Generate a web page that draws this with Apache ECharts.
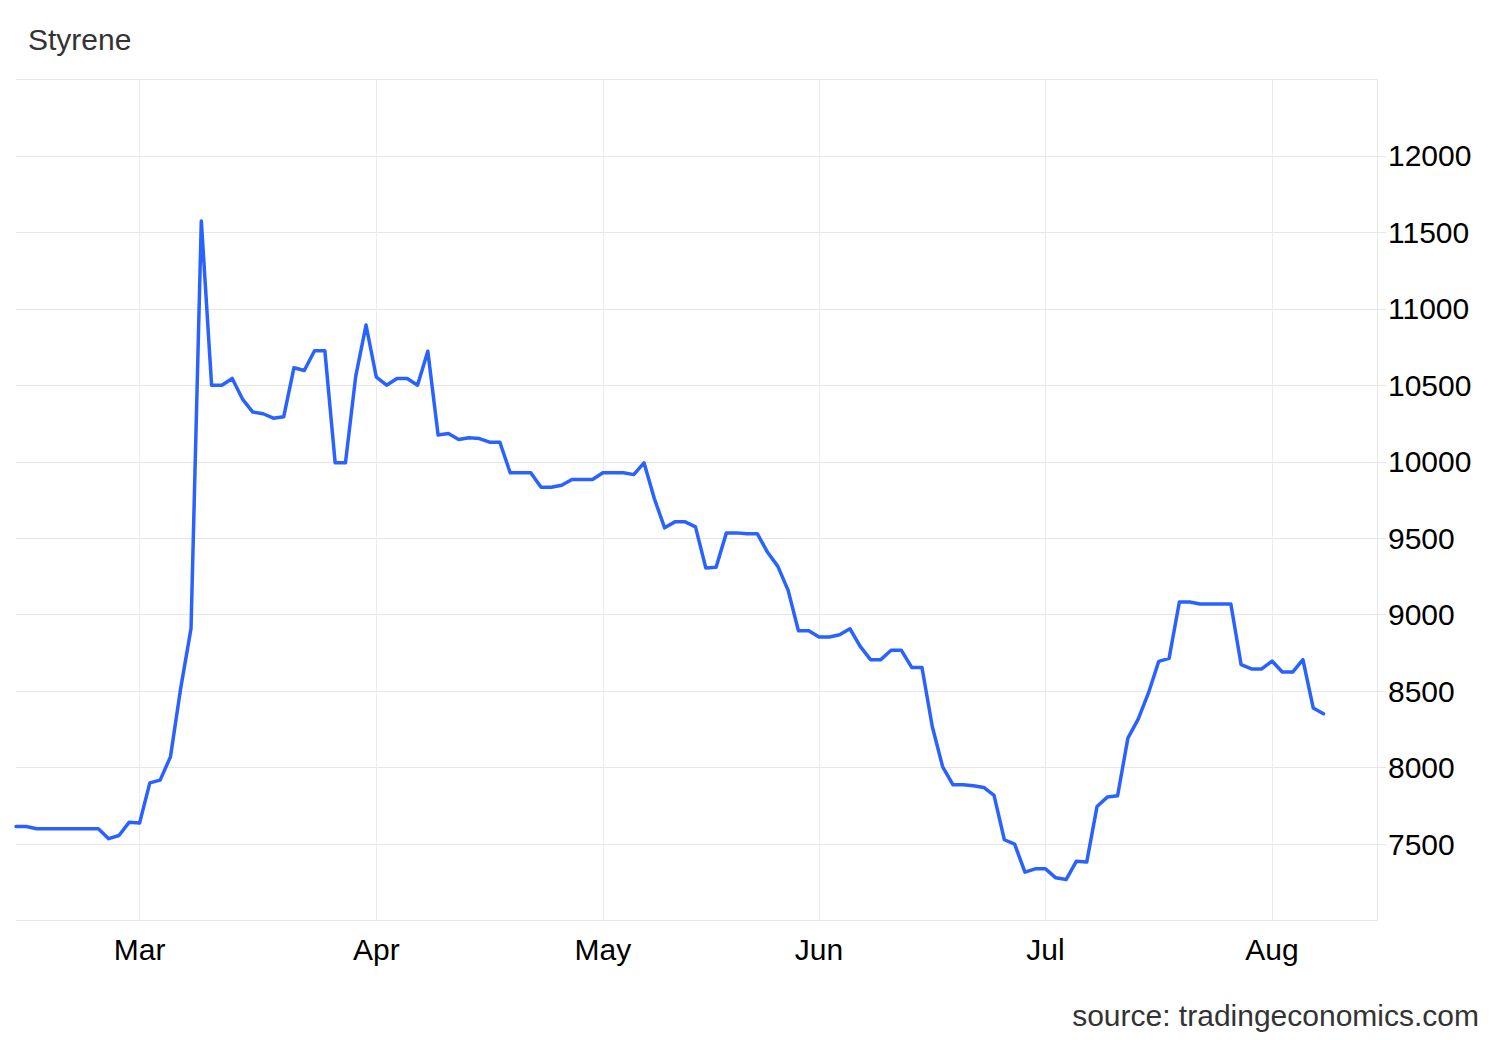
<!DOCTYPE html>
<html>
<head>
<meta charset="utf-8">
<title>Styrene</title>
<script src="https://cdn.jsdelivr.net/npm/echarts@6/dist/echarts.min.js"></script>
<style>
  html, body { margin: 0; padding: 0; background: #ffffff; }
  #chart { width: 1500px; height: 1040px; }
</style>
</head>
<body>
<div id="chart"></div>
<script>
// Trading days (weekdays), Feb 11 2021 - Aug 9 2021
const dates = [
  '2021-02-11','2021-02-12','2021-02-15','2021-02-16','2021-02-17','2021-02-18','2021-02-19',
  '2021-02-22','2021-02-23','2021-02-24','2021-02-25','2021-02-26',
  '2021-03-01','2021-03-02','2021-03-03','2021-03-04','2021-03-05',
  '2021-03-08','2021-03-09','2021-03-10','2021-03-11','2021-03-12',
  '2021-03-15','2021-03-16','2021-03-17','2021-03-18','2021-03-19',
  '2021-03-22','2021-03-23','2021-03-24','2021-03-25','2021-03-26',
  '2021-03-29','2021-03-30','2021-03-31',
  '2021-04-01','2021-04-02','2021-04-05','2021-04-06','2021-04-07','2021-04-08','2021-04-09',
  '2021-04-12','2021-04-13','2021-04-14','2021-04-15','2021-04-16',
  '2021-04-19','2021-04-20','2021-04-21','2021-04-22','2021-04-23',
  '2021-04-26','2021-04-27','2021-04-28','2021-04-29','2021-04-30',
  '2021-05-03','2021-05-04','2021-05-05','2021-05-06','2021-05-07',
  '2021-05-10','2021-05-11','2021-05-12','2021-05-13','2021-05-14',
  '2021-05-17','2021-05-18','2021-05-19','2021-05-20','2021-05-21',
  '2021-05-24','2021-05-25','2021-05-26','2021-05-27','2021-05-28','2021-05-31',
  '2021-06-01','2021-06-02','2021-06-03','2021-06-04',
  '2021-06-07','2021-06-08','2021-06-09','2021-06-10','2021-06-11',
  '2021-06-14','2021-06-15','2021-06-16','2021-06-17','2021-06-18',
  '2021-06-21','2021-06-22','2021-06-23','2021-06-24','2021-06-25',
  '2021-06-28','2021-06-29','2021-06-30',
  '2021-07-01','2021-07-02','2021-07-05','2021-07-06','2021-07-07','2021-07-08','2021-07-09',
  '2021-07-12','2021-07-13','2021-07-14','2021-07-15','2021-07-16',
  '2021-07-19','2021-07-20','2021-07-21','2021-07-22','2021-07-23',
  '2021-07-26','2021-07-27','2021-07-28','2021-07-29','2021-07-30',
  '2021-08-02','2021-08-03','2021-08-04','2021-08-05','2021-08-06','2021-08-09'
];

const styreneValues = [
  7615, 7615, 7600, 7600, 7600, 7600, 7600, 7600, 7600, 7535, 7556, 7643,
  7637, 7900, 7918, 8070, 8520, 8910, 11575, 10500, 10500, 10545, 10410, 10325,
  10314, 10285, 10294, 10615, 10597, 10726, 10726, 9993, 9993, 10560, 10894,
  10553, 10501, 10545, 10545, 10501, 10723, 10175, 10185, 10146, 10157, 10152,
  10128, 10128, 9928, 9928, 9928, 9833, 9833, 9847, 9884, 9884, 9884,
  9928, 9928, 9928, 9916, 9993, 9760, 9568, 9607, 9607, 9574, 9306, 9310,
  9535, 9535, 9530, 9530, 9408, 9316, 9159, 8895, 8895,
  8854, 8854, 8869, 8908, 8793, 8706, 8706, 8767, 8767, 8655, 8655, 8269,
  8007, 7888, 7888, 7881, 7870, 7818, 7528, 7499, 7316, 7338,
  7338, 7279, 7268, 7388, 7382, 7745, 7807, 7816, 8193, 8317, 8488, 8695,
  8714, 9083, 9083, 9070, 9070, 9070, 9070, 8673, 8645, 8645,
  8697, 8625, 8625, 8706, 8390, 8352
];

const monthNames = ['Jan','Feb','Mar','Apr','May','Jun','Jul','Aug','Sep','Oct','Nov','Dec'];
const yMin = 7000, yMax = 12500, yStep = 500;

const FONT = '"Liberation Sans", Arial, Helvetica, sans-serif';

function isMonthStart(idx) {
  if (idx === 0) return false;
  return dates[idx].slice(5, 7) !== dates[idx - 1].slice(5, 7);
}

const chart = echarts.init(document.getElementById('chart'), null, { renderer: 'svg' });

chart.setOption({
  animation: false,
  backgroundColor: '#ffffff',
  grid: [
    { left: 16, right: 176.5, top: 79.5, bottom: 119.5, outerBoundsMode: 'none' },
    { left: 16, right: 123, top: 79.5, bottom: 119.5, outerBoundsMode: 'none' }
  ],
  xAxis: [
    {
      gridIndex: 0,
      type: 'category',
      data: dates,
      boundaryGap: false,
      axisLine: { show: false },
      axisTick: { show: false },
      axisLabel: {
        interval: function (idx) { return isMonthStart(idx); },
        formatter: function (v) { return monthNames[parseInt(v.slice(5, 7), 10) - 1]; },
        color: '#000000',
        fontSize: 30,
        fontFamily: FONT,
        margin: 14
      },
      splitLine: {
        show: true,
        interval: function (idx) { return isMonthStart(idx); },
        lineStyle: { color: '#e9edf2', width: 1 }
      }
    },
    {
      gridIndex: 1,
      type: 'value',
      min: 0,
      max: 1,
      show: false
    }
  ],
  yAxis: [
    {
      gridIndex: 0,
      type: 'value',
      min: yMin,
      max: yMax,
      interval: yStep,
      show: false
    },
    {
      gridIndex: 1,
      type: 'value',
      position: 'right',
      min: yMin,
      max: yMax,
      interval: yStep,
      axisLine: { show: true, onZero: false, lineStyle: { color: '#e6e6e6', width: 1 } },
      axisTick: { show: true, length: 9, lineStyle: { color: '#e6e6e6', width: 1 } },
      axisLabel: {
        showMinLabel: false,
        showMaxLabel: false,
        formatter: function (v) { return String(v); },
        color: '#000000',
        fontSize: 30,
        fontFamily: FONT,
        margin: 11
      },
      splitLine: { show: true, lineStyle: { color: '#e6e6e6', width: 1 } }
    }
  ],
  graphic: [
    {
      type: 'text',
      left: 28,
      top: 24.5,
      style: { text: 'Styrene', fill: '#333333', font: '30px ' + FONT }
    },
    {
      type: 'text',
      right: 21,
      top: 1000.5,
      style: { text: 'source: tradingeconomics.com', fill: '#333333', font: '30px ' + FONT }
    }
  ],
  series: [
    {
      type: 'line',
      xAxisIndex: 0,
      yAxisIndex: 0,
      data: styreneValues,
      symbol: 'none',
      showSymbol: false,
      smooth: false,
      lineStyle: { color: '#2962ff', width: 3.5, cap: 'round', join: 'round' },
      z: 3
    }
  ]
});
</script>
</body>
</html>
